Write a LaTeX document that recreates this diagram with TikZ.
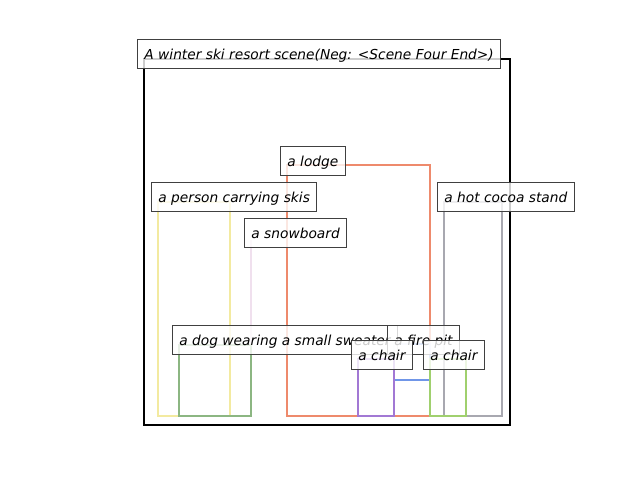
\documentclass[tikz,border=0pt]{standalone}
\usepackage{fontspec}
\setmainfont{DejaVu Sans}
\definecolor{skiyellow}{RGB}{243,234,160}
\definecolor{boardpink}{RGB}{240,224,238}
\definecolor{lodgeorange}{RGB}{238,138,108}
\definecolor{cocoagray}{RGB}{168,168,176}
\definecolor{doggreen}{RGB}{140,182,130}
\definecolor{pitblue}{RGB}{112,150,232}
\definecolor{chairpurple}{RGB}{162,120,212}
\definecolor{chairgreen}{RGB}{160,208,110}
\begin{document}
\begin{tikzpicture}[x=0.72pt,y=-0.72pt,font=\itshape\fontsize{9.9}{12}\selectfont,
  obj/.style={line width=1.44pt},
  tag/.style={draw=black!75,line width=0.72pt,fill=white,fill opacity=0.8,text opacity=1,anchor=west,inner xsep=5pt,inner ysep=0pt,minimum height=20.2pt,text height=8.8pt,text depth=1.6pt}]
\useasboundingbox (0,0) rectangle (640,480);
% scene frame
\draw[line width=1.44pt] (144,59) rectangle (510,425);
% object boxes
\draw[obj,skiyellow] (158,202) rectangle (230,416);
\draw[obj,boardpink] (251,240) rectangle (251,416);
\draw[obj,lodgeorange] (287,165) rectangle (430,416);
\draw[obj,cocoagray] (444,202) rectangle (502,416);
\draw[obj,doggreen] (179,345) rectangle (251,416);
\draw[obj,pitblue] (394,344) rectangle (430,380);
\draw[obj,chairpurple] (358,359) rectangle (394,416);
\draw[obj,chairgreen] (430,359) rectangle (466,416);
% labels
\node[tag] (title) at (137,54) {A winter ski resort scene(Neg: <Scene Four End>)};
\node[tag] (skis) at (151,197) {a person carrying skis};
\node[tag] (board) at (244,233) {a snowboard};
\node[tag] (lodge) at (280,161) {a lodge};
\node[tag] (cocoa) at (437,197) {a hot cocoa stand};
\node[tag] (dog) at (172,340) {a dog wearing a small sweater};
\node[tag] (pit) at (387,340) {a fire pit};
\node[tag] (chairA) at (351,355) {a chair};
\node[tag] (chairB) at (423,355) {a chair};
\end{tikzpicture}
\end{document}
